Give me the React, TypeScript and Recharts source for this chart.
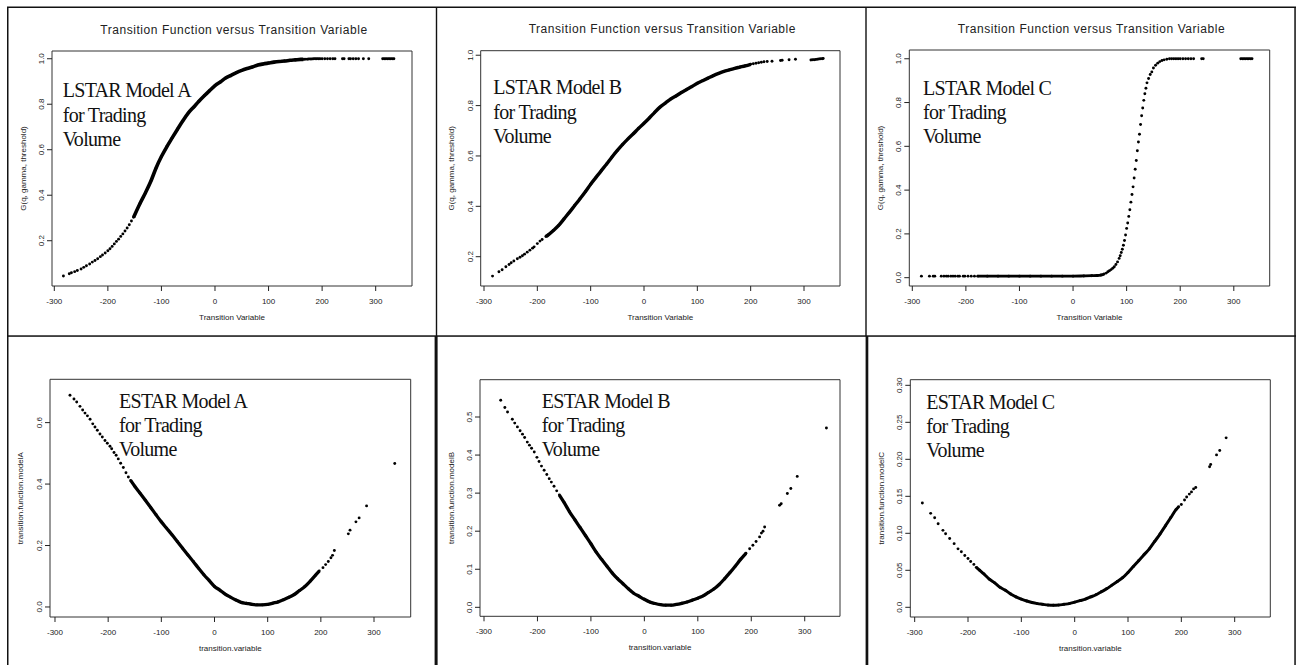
import { ScatterChart, Scatter, XAxis, YAxis, ReferenceArea, Label } from "recharts"

// shared x ticks
const xTicks = [-300, -200, -100, 0, 100, 200, 300]

const lstarTicks = [0.2, 0.4, 0.6, 0.8, 1.0]
const lstarTickLabels = ["0.2", "0.4", "0.6", "0.8", "1.0"]
const lstarCTicks = [0, 0.2, 0.4, 0.6, 0.8, 1.0]
const lstarCTickLabels = ["0.0", "0.2", "0.4", "0.6", "0.8", "1.0"]
const estarATicks = [0, 0.2, 0.4, 0.6]
const estarATickLabels = ["0.0", "0.2", "0.4", "0.6"]
const estarBTicks = [0, 0.1, 0.2, 0.3, 0.4, 0.5]
const estarBTickLabels = ["0.0", "0.1", "0.2", "0.3", "0.4", "0.5"]
const estarCTicks = [0, 0.05, 0.1, 0.15, 0.2, 0.25, 0.3]
const estarCTickLabels = ["0.0", "0.05", "0.10", "0.15", "0.20", "0.25", "0.30"]

const title = "Transition Function versus Transition Variable"

// [transition variable, transition function]
const lstarA: [number, number][] = [
  [-283, 0.045], [-272, 0.055], [-268, 0.059], [-262, 0.064], [-257, 0.069], [-250, 0.076],
  [-245, 0.083], [-240, 0.09], [-234, 0.098], [-229, 0.106], [-224, 0.113], [-219, 0.121],
  [-214, 0.13], [-210, 0.137], [-205, 0.146], [-200, 0.156], [-196, 0.165], [-192, 0.175],
  [-188, 0.186], [-184, 0.197], [-180, 0.207], [-176, 0.219], [-172, 0.23], [-168, 0.243],
  [-164, 0.256], [-160, 0.27], [-156, 0.287], [-152, 0.303], [-140, 0.364], [-130, 0.41],
  [-120, 0.46], [-110, 0.52], [-100, 0.57], [-90, 0.613], [-80, 0.652], [-70, 0.69],
  [-60, 0.727], [-50, 0.761], [-40, 0.787], [-30, 0.813], [-20, 0.837], [-10, 0.86],
  [0, 0.882], [10, 0.898], [20, 0.915], [30, 0.927], [40, 0.939], [50, 0.949], [60, 0.957],
  [70, 0.964], [80, 0.972], [90, 0.977], [100, 0.981], [110, 0.985], [120, 0.988], [130, 0.99],
  [140, 0.993], [150, 0.995], [160, 0.997], [165, 0.997], [168, 0.998], [172, 0.998],
  [175, 0.999], [178, 0.999], [181, 0.999], [184, 1], [187, 1], [190, 1], [193, 1], [196, 1],
  [200, 1], [205, 1], [210, 1], [215, 1], [220, 1], [224, 1], [238, 1], [241, 1], [250, 1],
  [253, 1], [258, 1], [263, 1], [268, 1], [277, 1], [287, 1], [313, 1], [316, 1], [319, 1],
  [322, 1], [325, 1], [328, 1], [331, 1], [334, 1],
]
const lstarB: [number, number][] = [
  [-284, 0.123], [-272, 0.14], [-266, 0.148], [-259, 0.16], [-253, 0.169], [-249, 0.176],
  [-244, 0.183], [-237.5, 0.192], [-232.5, 0.198], [-228, 0.204], [-224, 0.21], [-219, 0.218],
  [-214, 0.226], [-209, 0.234], [-206, 0.239], [-200, 0.252], [-195, 0.262], [-191, 0.268],
  [-184, 0.28], [-180, 0.286], [-170, 0.304], [-160, 0.324], [-150, 0.35], [-140, 0.376],
  [-130, 0.403], [-120, 0.43], [-110, 0.458], [-100, 0.488], [-90, 0.515], [-80, 0.542],
  [-70, 0.568], [-60, 0.596], [-50, 0.622], [-40, 0.646], [-30, 0.668], [-20, 0.688],
  [-10, 0.71], [0, 0.73], [10, 0.751], [20, 0.773], [30, 0.794], [40, 0.81], [50, 0.826],
  [60, 0.838], [70, 0.852], [80, 0.864], [90, 0.876], [100, 0.889], [110, 0.899], [120, 0.909],
  [130, 0.919], [140, 0.928], [150, 0.936], [160, 0.942], [170, 0.948], [180, 0.953],
  [190, 0.958], [200, 0.964], [205, 0.966], [210, 0.968], [215, 0.97], [220, 0.972],
  [225, 0.974], [231, 0.975], [240, 0.976], [256, 0.979], [259, 0.98], [272, 0.982],
  [284, 0.984], [313, 0.981], [316, 0.982], [319, 0.982], [322, 0.983], [325, 0.984],
  [328, 0.985], [331, 0.986], [334, 0.986], [336, 0.987],
]
const lstarC: [number, number][] = [
  [-283, 0.007], [-268, 0.007], [-261, 0.007], [-258, 0.007], [-246, 0.007], [-241, 0.007],
  [-236.5, 0.007], [-233, 0.007], [-228, 0.007], [-224, 0.007], [-220, 0.007], [-215, 0.007],
  [-212, 0.007], [-205, 0.007], [-202, 0.007], [-196, 0.007], [-190, 0.007], [-184, 0.007],
  [-178, 0.007], [-160, 0.007], [-140, 0.007], [-120, 0.007], [-100, 0.007], [-80, 0.007],
  [-60, 0.007], [-40, 0.007], [-20, 0.007], [0, 0.007], [20, 0.008], [35, 0.009], [45, 0.01],
  [52, 0.012], [56, 0.014], [58, 0.017], [62, 0.021], [65, 0.027], [68, 0.032], [71, 0.037],
  [74, 0.043], [77, 0.05], [80, 0.06], [83, 0.072], [86, 0.088], [88, 0.1], [90, 0.115],
  [92, 0.13], [94, 0.148], [96, 0.17], [98, 0.195], [100, 0.225], [102, 0.25], [104, 0.28],
  [106, 0.31], [108, 0.345], [110, 0.38], [112, 0.415], [114, 0.455], [116, 0.495],
  [118, 0.535], [120, 0.58], [122, 0.62], [124, 0.655], [126, 0.7], [128, 0.74], [130, 0.775],
  [132, 0.81], [134, 0.84], [136, 0.865], [138, 0.89], [141, 0.91], [144, 0.928], [147, 0.94],
  [150, 0.958], [154, 0.97], [158, 0.98], [162, 0.987], [166, 0.992], [170, 0.995],
  [175, 0.998], [180, 1], [184, 1], [188, 1], [192, 1], [196, 1], [200, 1], [205, 1], [210, 1],
  [215, 1], [220, 1], [225, 1], [240, 1], [243, 1], [313, 1], [316, 1], [319, 1], [322, 1],
  [325, 1], [328, 1], [331, 1], [334, 1],
]
const estarA: [number, number][] = [
  [-271.8, 0.689], [-264.3, 0.677], [-259.2, 0.667], [-253, 0.653], [-248, 0.641],
  [-243.6, 0.631], [-239, 0.622], [-234, 0.611], [-229, 0.596], [-224.8, 0.586],
  [-220.4, 0.575], [-215.4, 0.563], [-211, 0.553], [-206, 0.542], [-201.6, 0.533],
  [-196.6, 0.523], [-193.4, 0.515], [-189, 0.503], [-185, 0.494], [-181, 0.482],
  [-176.5, 0.468], [-171.5, 0.454], [-166.5, 0.437], [-162, 0.423], [-157.7, 0.412],
  [-150, 0.393], [-140, 0.37], [-130, 0.347], [-120, 0.324], [-110, 0.3], [-100, 0.277],
  [-90, 0.256], [-80, 0.235], [-70, 0.213], [-60, 0.191], [-50, 0.169], [-40, 0.148],
  [-30, 0.126], [-20, 0.105], [-10, 0.086], [0, 0.067], [10, 0.055], [20, 0.042], [30, 0.032],
  [40, 0.023], [50, 0.015], [60, 0.012], [70, 0.0087], [80, 0.007], [90, 0.007], [100, 0.0084],
  [110, 0.0126], [120, 0.0168], [130, 0.0236], [140, 0.0316], [150, 0.0406], [160, 0.0536],
  [170, 0.0666], [180, 0.084], [190, 0.1035], [197, 0.117], [204, 0.128], [209, 0.138],
  [214, 0.148], [219, 0.16], [222, 0.168], [225.4, 0.184], [251.7, 0.238], [254.9, 0.25],
  [266, 0.277], [272, 0.29], [286, 0.329], [339, 0.467],
]
const estarB: [number, number][] = [
  [-268.75, 0.544], [-261, 0.525], [-256, 0.513], [-247, 0.494], [-242.5, 0.484],
  [-237.5, 0.474], [-232.5, 0.464], [-228, 0.455], [-224, 0.446], [-219, 0.434], [-215, 0.426],
  [-211, 0.418], [-206, 0.408], [-201, 0.394], [-197, 0.383], [-192.5, 0.371], [-187.5, 0.36],
  [-182.5, 0.349], [-178, 0.338], [-174, 0.329], [-169, 0.318], [-164, 0.306], [-159, 0.295],
  [-150, 0.275], [-140, 0.251], [-130, 0.23], [-120, 0.209], [-110, 0.188], [-100, 0.167],
  [-90, 0.145], [-80, 0.126], [-70, 0.108], [-60, 0.09], [-50, 0.075], [-40, 0.062],
  [-30, 0.049], [-20, 0.037], [-10, 0.029], [0, 0.021], [10, 0.014], [20, 0.01], [30, 0.007],
  [40, 0.0055], [50, 0.0055], [60, 0.0075], [70, 0.0105], [80, 0.014], [90, 0.019],
  [100, 0.024], [110, 0.03], [120, 0.039], [130, 0.048], [140, 0.06], [150, 0.075],
  [160, 0.091], [170, 0.108], [180, 0.126], [190, 0.142], [197, 0.154], [203, 0.163],
  [209, 0.173], [215.6, 0.185], [219, 0.195], [222, 0.2], [225, 0.211], [253, 0.268],
  [256, 0.272], [267.5, 0.299], [274, 0.312], [286, 0.344], [340.6, 0.471],
]
const estarC: [number, number][] = [
  [-285.6, 0.141], [-270, 0.127], [-262.5, 0.121], [-256, 0.113], [-247, 0.104],
  [-242, 0.0995], [-234.4, 0.093], [-226, 0.086], [-218.75, 0.079], [-212.5, 0.075],
  [-206, 0.07], [-200, 0.066], [-195, 0.062], [-189, 0.058], [-184.4, 0.054], [-178, 0.05],
  [-170, 0.045], [-160, 0.038], [-150, 0.033], [-140, 0.027], [-130, 0.023], [-120, 0.018],
  [-110, 0.014], [-100, 0.011], [-90, 0.0085], [-80, 0.0065], [-70, 0.005], [-60, 0.004],
  [-50, 0.003], [-40, 0.0027], [-30, 0.003], [-20, 0.004], [-10, 0.005], [0, 0.007],
  [10, 0.009], [20, 0.011], [30, 0.014], [40, 0.017], [50, 0.021], [60, 0.025], [70, 0.03],
  [80, 0.035], [90, 0.04], [100, 0.047], [110, 0.055], [120, 0.063], [130, 0.071],
  [140, 0.079], [150, 0.089], [160, 0.099], [170, 0.11], [180, 0.121], [190, 0.132],
  [195, 0.136], [200, 0.139], [206, 0.145], [210, 0.149], [215, 0.153], [219, 0.156],
  [223, 0.16], [227, 0.162], [253, 0.19], [255, 0.193], [266, 0.206], [272, 0.212], [284, 0.229],
]

// x range where the points are so dense they form a solid band
const lstarABand = [-152, 165]
const lstarBBand = [-184, 200]
const lstarCBand = [-178, 56]
const estarABand = [-157.7, 197]
const estarBBand = [-159, 190]
const estarCBand = [-184.4, 195]

const lstarANote = ["LSTAR Model A", "for Trading", "Volume"]
const lstarBNote = ["LSTAR Model B", "for Trading", "Volume"]
const lstarCNote = ["LSTAR Model C", "for Trading", "Volume"]
const estarANote = ["ESTAR Model A", "for Trading", "Volume"]
const estarBNote = ["ESTAR Model B", "for Trading", "Volume"]
const estarCNote = ["ESTAR Model C", "for Trading", "Volume"]

const SANS = "'Liberation Sans', Arial, Helvetica, sans-serif"
const SERIF = "'Liberation Serif', 'Times New Roman', serif"

const X_AXIS_H = 40
const Y_AXIS_W = 36

type PanelDef = {
  points: [number, number][]
  band: number[]
  yTicks: number[]
  yTickLabels: string[]
  xLabel: string
  yLabel: string
  note: string[]
  title: boolean
  cell: number[] // x, y, w, h
  box: number[] // left, top, right, bottom
  xDomain: [number, number]
  yDomain: [number, number]
  notePos: number[]
  bandWidth: number
}

const panels: PanelDef[] = [
  {
    points: lstarA, band: lstarABand, yTicks: lstarTicks, yTickLabels: lstarTickLabels,
    xLabel: "Transition Variable", yLabel: "G(q, gamma, threshold)", note: lstarANote, title: true,
    cell: [8, 7, 428, 329], box: [52, 51, 412, 286], xDomain: [-304.3, 367.8], yDomain: [0.001, 1.034],
    notePos: [62.7, 97.3], bandWidth: 3.6,
  },
  {
    points: lstarB, band: lstarBBand, yTicks: lstarTicks, yTickLabels: lstarTickLabels,
    xLabel: "Transition Variable", yLabel: "G(q, gamma, threshold)", note: lstarBNote, title: true,
    cell: [436, 7, 430, 329], box: [480.7, 50.7, 840, 286], xDomain: [-306.2, 367.5], yDomain: [0.0836, 1.018],
    notePos: [493.3, 94.3], bandWidth: 3.4,
  },
  {
    points: lstarC, band: lstarCBand, yTicks: lstarCTicks, yTickLabels: lstarCTickLabels,
    xLabel: "Transition Variable", yLabel: "G(q, gamma, threshold)", note: lstarCNote, title: true,
    cell: [866, 7, 429, 329], box: [909.3, 50, 1269.7, 286], xDomain: [-305.6, 367], yDomain: [-0.038, 1.04],
    notePos: [923, 95], bandWidth: 2.8,
  },
  {
    points: estarA, band: estarABand, yTicks: estarATicks, yTickLabels: estarATickLabels,
    xLabel: "transition.variable", yLabel: "transition.function.modelA", note: estarANote, title: false,
    cell: [8, 336, 428, 329], box: [50, 379.3, 410.7, 617], xDomain: [-309.4, 369], yDomain: [-0.0326, 0.741],
    notePos: [119, 408], bandWidth: 3.3,
  },
  {
    points: estarB, band: estarBBand, yTicks: estarBTicks, yTickLabels: estarBTickLabels,
    xLabel: "transition.variable", yLabel: "transition.function.modelB", note: estarBNote, title: false,
    cell: [436, 336, 430, 329], box: [480, 379.7, 840, 616.3], xDomain: [-307.5, 366], yDomain: [-0.0236, 0.598],
    notePos: [541.7, 408], bandWidth: 3.3,
  },
  {
    points: estarC, band: estarCBand, yTicks: estarCTicks, yTickLabels: estarCTickLabels,
    xLabel: "transition.variable", yLabel: "transition.function.modelC", note: estarCNote, title: false,
    cell: [866, 336, 429, 329], box: [910.3, 379.7, 1270.3, 617], xDomain: [-308.2, 366.8], yDomain: [-0.0131, 0.3076],
    notePos: [926.3, 408.7], bandWidth: 3,
  },
]

const dot = (props: any) => <circle cx={props.cx} cy={props.cy} r={1.45} fill="#000" />
const noDot = () => <g />

function Panel({ p }: { p: PanelDef }) {
  const [cx, cy, cw, ch] = p.cell
  const [bl, bt, br, bb] = p.box
  const data = p.points.map(([x, y]) => ({ x, y }))
  const bandData = data.filter((d) => d.x >= p.band[0] && d.x <= p.band[1])

  const xTick = (t: any) => (
    <text x={t.x} y={t.y + 12.5} textAnchor="middle" fontSize={8} fontFamily={SANS} fill="#222">
      {String(t.payload.value)}
    </text>
  )
  const yTick = (t: any) => {
    const i = p.yTicks.indexOf(t.payload.value)
    const x = t.x - 3
    return (
      <text x={x} y={t.y} transform={`rotate(-90 ${x} ${t.y})`} textAnchor="middle" fontSize={8} fontFamily={SANS} fill="#222">
        {i >= 0 ? p.yTickLabels[i] : String(t.payload.value)}
      </text>
    )
  }
  const xTitle = (props: any) => {
    const vb = props.viewBox
    return (
      <text x={vb.x + vb.width / 2} y={vb.y + 34} textAnchor="middle" fontSize={8} fontFamily={SANS} fill="#222">
        {p.xLabel}
      </text>
    )
  }
  const yTitle = (props: any) => {
    const vb = props.viewBox
    const x = vb.x + vb.width - 26.5
    const y = vb.y + vb.height / 2
    return (
      <text x={x} y={y} transform={`rotate(-90 ${x} ${y})`} textAnchor="middle" fontSize={8} fontFamily={SANS} fill="#222">
        {p.yLabel}
      </text>
    )
  }

  return (
    <div style={{ position: "absolute", left: cx, top: cy }}>
      <ScatterChart
        width={cw}
        height={ch}
        margin={{
          left: bl - cx - Y_AXIS_W,
          top: bt - cy,
          right: cx + cw - br,
          bottom: cy + ch - bb - X_AXIS_H,
        }}
      >
        <XAxis
          type="number"
          dataKey="x"
          domain={p.xDomain}
          ticks={xTicks}
          interval={0}
          allowDataOverflow
          height={X_AXIS_H}
          axisLine={false}
          tickLine={{ stroke: "#222" }}
          tickSize={5}
          tickMargin={0}
          tick={xTick}
        >
          <Label content={xTitle} />
        </XAxis>
        <YAxis
          type="number"
          dataKey="y"
          domain={p.yDomain}
          ticks={p.yTicks}
          interval={0}
          allowDataOverflow
          width={Y_AXIS_W}
          axisLine={false}
          tickLine={{ stroke: "#222" }}
          tickSize={5}
          tickMargin={0}
          tick={yTick}
        >
          <Label content={yTitle} />
        </YAxis>
        <ReferenceArea
          x1={p.xDomain[0]}
          x2={p.xDomain[1]}
          y1={p.yDomain[0]}
          y2={p.yDomain[1]}
          fill="none"
          stroke="#333"
          strokeWidth={1}
          ifOverflow="visible"
        />
        <Scatter
          data={bandData}
          line={{ stroke: "#000", strokeWidth: p.bandWidth }}
          lineJointType="monotoneX"
          shape={noDot}
          isAnimationActive={false}
        />
        <Scatter data={data} shape={dot} fill="#000" isAnimationActive={false} />
      </ScatterChart>
    </div>
  )
}

export default function App() {
  return (
    <div style={{ position: "absolute", left: 0, top: 0, width: 1302, height: 665, background: "#fff", overflow: "hidden" }}>
      {panels.map((p, i) => (
        <Panel key={i} p={p} />
      ))}
      <svg width={1302} height={665} style={{ position: "absolute", left: 0, top: 0, pointerEvents: "none" }}>
        {panels.map((p, i) => {
          const [bl, bt, br] = p.box
          return (
            <g key={i}>
              {p.title && (
                <text x={(bl + br) / 2 + 2} y={bt - 17.5} textAnchor="middle" fontSize={12} letterSpacing={0.55} fontFamily={SANS} fill="#222">
                  {title}
                </text>
              )}
              {p.note.map((line, j) => (
                <text key={j} x={p.notePos[0]} y={p.notePos[1] + j * 24.2} fontSize={20} letterSpacing={-0.7} fontFamily={SERIF} fill="#111">
                  {line}
                </text>
              ))}
            </g>
          )
        })}
        {/* table frame */}
        <g fill="#111">
          <rect x={7} y={6.5} width={1289} height={1.5} />
          <rect x={7} y={7} width={1.5} height={658} />
          <rect x={1294.3} y={7} width={1.5} height={658} />
          <rect x={7} y={335.3} width={1289} height={1.5} />
          <rect x={435.8} y={7} width={1.4} height={329} />
          <rect x={865.3} y={7} width={1.4} height={329} />
          <rect x={434.6} y={336} width={3} height={329} />
          <rect x={865.6} y={336} width={2.7} height={329} />
        </g>
      </svg>
    </div>
  )
}
